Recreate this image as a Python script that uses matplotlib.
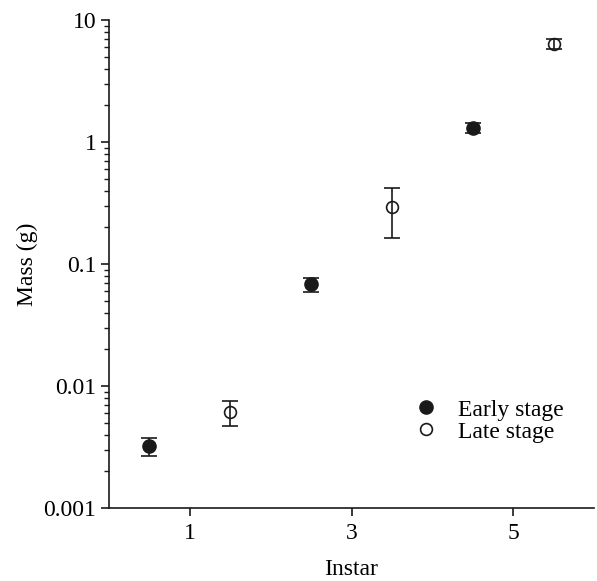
import numpy as np
import matplotlib
matplotlib.use("Agg")
import matplotlib.pyplot as plt
from matplotlib.ticker import LogLocator, FixedLocator, NullFormatter

plt.rcParams['font.family'] = ['Liberation Serif', 'DejaVu Serif']

# data
early_x = [0.5, 2.5, 4.5]
early_mass = [0.0032, 0.0686, 1.30]
early_lo = [0.00267, 0.0589, 1.19]
early_hi = [0.00375, 0.0767, 1.43]

late_x = [1.5, 3.5, 5.5]
late_mass = [0.0061, 0.293, 6.36]
late_lo = [0.0047, 0.163, 5.78]
late_hi = [0.00753, 0.42, 6.98]

x_ticks = [1, 3, 5]
y_ticks = [0.001, 0.01, 0.1, 1, 10]
y_labels = ['0.001', '0.01', '0.1', '1', '10']

fig = plt.figure(figsize=(5.97, 5.81), dpi=100)
ax = fig.add_axes([109 / 597, 73 / 581, 485 / 597, 488 / 581])

col = '#1a1a1a'
fs = 17
err_e = [np.array(early_mass) - np.array(early_lo), np.array(early_hi) - np.array(early_mass)]
err_l = [np.array(late_mass) - np.array(late_lo), np.array(late_hi) - np.array(late_mass)]

ax.errorbar(early_x, early_mass, yerr=err_e, fmt='none', ecolor=col,
            elinewidth=1.2, capsize=5.5, capthick=1.2, zorder=2)
ax.errorbar(late_x, late_mass, yerr=err_l, fmt='none', ecolor=col,
            elinewidth=1.2, capsize=5.5, capthick=1.2, zorder=2)
ax.plot(early_x, early_mass, 'o', ms=9.5, mfc=col, mec=col, ls='none',
        label='Early stage', zorder=3)
ax.plot(late_x, late_mass, 'o', ms=8.5, mfc='none', mec=col, mew=1.2, ls='none',
        label='Late stage', zorder=3)

ax.set_yscale('log')
ax.set_ylim(0.001, 10)
ax.set_xlim(0, 6)
ax.set_yticks(y_ticks)
ax.set_yticklabels(y_labels)
ax.yaxis.set_minor_locator(LogLocator(base=10, subs=np.arange(2, 10)))
ax.yaxis.set_minor_formatter(NullFormatter())
ax.xaxis.set_major_locator(FixedLocator(x_ticks))

for s in ['top', 'right']:
    ax.spines[s].set_visible(False)
for s in ['left', 'bottom']:
    ax.spines[s].set_linewidth(1.2)
    ax.spines[s].set_color(col)

ax.tick_params(axis='both', which='major', direction='out', length=5.5, width=1.2,
               labelsize=fs, color=col)
ax.tick_params(axis='y', which='minor', direction='out', length=3.5, width=1.0, color=col)
ax.tick_params(axis='x', pad=5)

ax.set_xlabel('Instar', fontsize=fs, labelpad=11)
ax.set_ylabel('Mass (g)', fontsize=fs, labelpad=4)

ax.legend(loc='lower left', bbox_to_anchor=(0.6, 0.11), frameon=False, fontsize=fs,
          handletextpad=0.75, labelspacing=0.02, borderpad=0, handlelength=1.2)

fig.savefig('out.png', dpi=100)
